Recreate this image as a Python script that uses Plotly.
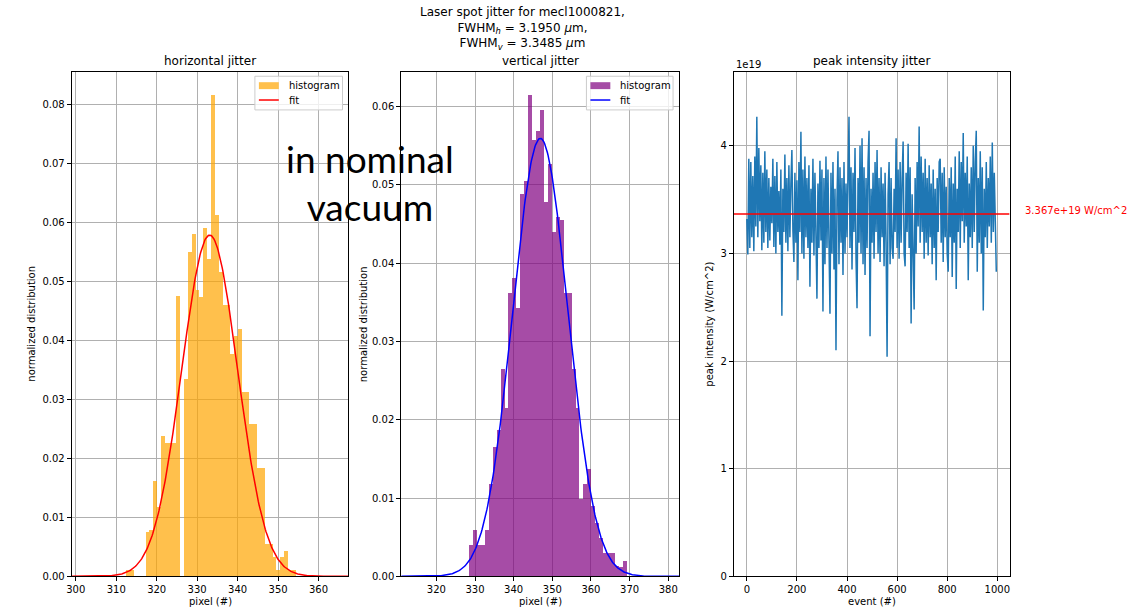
import numpy as np
import plotly.graph_objects as go

W, H = 1138, 614

# ---------------- data ----------------
# horizontal jitter histogram (normalized density), 44 bins
h_bin_start = 312.45
h_bin_width = 0.95
h_density = [0.0011, 0.0011, 0.0, 0.0, 0.0, 0.0075, 0.0078, 0.0161, 0.0117, 0.0237,
             0.0225, 0.0225, 0.0225, 0.0475, 0.0, 0.0334, 0.0549, 0.0580, 0.0484, 0.0473,
             0.0590, 0.0537, 0.0815, 0.0611, 0.0515, 0.0460, 0.0460, 0.0376, 0.0406, 0.0418,
             0.0311, 0.0311, 0.0257, 0.0257, 0.0183, 0.0183, 0.0054, 0.0054, 0.0033, 0.0011,
             0.0033, 0.0042, 0.0011, 0.0011]
h_fit = {"mu": 333.1, "sigma": 6.9}
h_xrange = [299.0, 367.4]

# vertical jitter histogram (normalized density), 40 bins
v_bin_start = 328.5
v_bin_width = 1.021
v_density = [0.0040, 0.0059, 0.0040, 0.0040, 0.0059, 0.0117, 0.0165, 0.0186, 0.0265, 0.0215,
             0.0362, 0.0381, 0.0343, 0.0488, 0.0505, 0.0615, 0.0557, 0.0568, 0.0596, 0.0478,
             0.0527, 0.0440, 0.0459, 0.0455, 0.0362, 0.0362, 0.0265, 0.0215, 0.0098, 0.0117,
             0.0137, 0.0089, 0.0068, 0.0048, 0.0030, 0.0030, 0.0030, 0.0013, 0.0011, 0.0019]
v_fit = {"mu": 346.9, "sigma": 7.13}
v_xrange = [310.9, 382.8]

# peak intensity (units of 1e19 W/cm^2), every 4th event
event_step = 4
peak_intensity = [
    3.32, 2.99, 3.88, 3.05, 3.85, 3.15, 3.72, 3.02, 3.90, 3.25, 4.27, 3.15, 3.98, 3.30, 3.82, 3.03, 3.75, 3.10, 3.95, 3.20, 3.78, 3.05, 3.70, 3.12, 3.62,
    3.28, 3.88, 3.06, 3.72, 3.00, 3.85, 3.20, 3.58, 3.08, 3.78, 2.42, 3.60, 3.20, 3.92, 3.10, 3.70, 3.02, 3.82, 3.15, 3.65, 3.96, 3.22, 2.92, 3.75, 3.10,
    3.68, 2.75, 3.85, 3.20, 4.13, 3.00, 3.78, 2.95, 3.90, 3.15, 3.70, 3.05, 3.82, 2.69, 3.60, 3.10, 3.88, 2.98, 3.75, 3.25, 2.58, 3.65, 3.05, 3.86, 3.12,
    3.78, 2.46, 3.70, 2.90, 3.90, 3.05, 3.78, 3.20, 2.44, 3.75, 3.00, 3.85, 2.85, 3.60, 2.10, 3.50, 3.95, 2.90, 3.80, 3.10, 3.70, 2.80, 3.85, 3.00, 3.65,
    3.15, 3.90, 4.27, 3.05, 3.80, 2.85, 3.75, 3.20, 3.98, 2.95, 2.49, 3.70, 3.10, 4.00, 3.00, 4.07, 2.90, 3.80, 2.80, 3.70, 3.05, 3.85, 4.14, 2.23, 3.60,
    3.10, 3.75, 2.95, 3.85, 3.20, 3.96, 3.00, 3.70, 2.92, 3.80, 3.15, 3.65, 2.88, 3.75, 3.10, 2.04, 3.55, 3.85, 2.90, 3.70, 3.05, 2.95, 3.60, 3.20, 4.07,
    3.05, 3.78, 2.95, 3.85, 3.10, 3.70, 4.04, 3.00, 2.88, 3.75, 3.20, 4.02, 3.05, 3.80, 2.35, 3.55, 3.15, 2.48, 3.70, 3.00, 3.85, 3.25, 4.18, 3.10, 3.90,
    3.20, 3.75, 2.95, 3.88, 3.10, 3.70, 2.98, 3.82, 3.15, 3.65, 2.90, 3.78, 3.05, 3.60, 2.75, 3.70, 3.20, 3.85, 3.88, 3.10, 3.75, 2.92, 3.80, 3.15, 3.62,
    3.00, 2.83, 3.70, 3.15, 3.80, 2.78, 3.65, 3.10, 3.90, 2.67, 3.60, 3.20, 3.95, 3.05, 3.85, 3.30, 4.12, 3.10, 3.75, 3.25, 3.90, 2.75, 3.65, 3.15, 3.80,
    3.05, 4.00, 3.20, 3.85, 4.14, 2.83, 3.70, 3.10, 3.95, 3.00, 3.80, 2.47, 3.60, 3.15, 3.85, 3.05, 3.70, 3.25, 3.90, 3.10, 4.03, 3.20, 3.75, 3.30, 2.83,
]
mean_intensity = 3.367
p_xrange = [-52, 1049]
p_yrange = [0, 4.683]

h_xticks = [300, 310, 320, 330, 340, 350, 360]
v_xticks = [320, 330, 340, 350, 360, 370, 380]
h_yticks = [0.00, 0.01, 0.02, 0.03, 0.04, 0.05, 0.06, 0.07, 0.08]
v_yticks = [0.00, 0.01, 0.02, 0.03, 0.04, 0.05, 0.06]
p_xticks = [0, 200, 400, 600, 800, 1000]
p_yticks = [0, 1, 2, 3, 4]

# ---------------- helpers ----------------
def px(x):
    return x / W

def py(y):
    return 1 - y / H

FONT = "DejaVu Sans"

def gauss(x, mu, sigma):
    return np.exp(-0.5 * ((x - mu) / sigma) ** 2) / (sigma * np.sqrt(2 * np.pi))

# ---------------- figure ----------------
fig = go.Figure()

h_centers = [h_bin_start + (i + 0.5) * h_bin_width for i in range(len(h_density))]
v_centers = [v_bin_start + (i + 0.5) * v_bin_width for i in range(len(v_density))]

fig.add_trace(go.Bar(x=h_centers, y=h_density, width=h_bin_width, name="histogram",
                     marker=dict(color="#FFA500", line=dict(width=0)), opacity=0.7,
                     xaxis="x", yaxis="y", showlegend=False))
hx = np.linspace(h_xrange[0], h_xrange[1], 400)
fig.add_trace(go.Scatter(x=hx, y=gauss(hx, **h_fit), mode="lines", name="fit",
                         line=dict(color="#FF0000", width=1.5), xaxis="x", yaxis="y", showlegend=False))

fig.add_trace(go.Bar(x=v_centers, y=v_density, width=v_bin_width, name="histogram",
                     marker=dict(color="#800080", line=dict(width=0)), opacity=0.7,
                     xaxis="x2", yaxis="y2", showlegend=False))
vx = np.linspace(v_xrange[0], v_xrange[1], 400)
fig.add_trace(go.Scatter(x=vx, y=gauss(vx, **v_fit), mode="lines", name="fit",
                         line=dict(color="#0000FF", width=1.5), xaxis="x2", yaxis="y2", showlegend=False))

events = [i * event_step for i in range(len(peak_intensity))]
fig.add_trace(go.Scatter(x=events, y=peak_intensity, mode="lines", showlegend=False,
                         line=dict(color="#1f77b4", width=1.5), xaxis="x3", yaxis="y3"))
fig.add_trace(go.Scatter(x=p_xrange, y=[mean_intensity, mean_intensity], mode="lines", showlegend=False,
                         line=dict(color="#FF0000", width=1.5), xaxis="x3", yaxis="y3"))

def axis(domain, rng, ticks, fmt, anchor):
    return dict(domain=domain, range=rng, anchor=anchor,
                tickmode="array", tickvals=ticks, ticktext=[fmt.format(t) for t in ticks],
                showline=True, linecolor="black", linewidth=1, mirror=True,
                ticks="outside", ticklen=4, tickwidth=1, tickcolor="black",
                showgrid=True, gridcolor="#b0b0b0", gridwidth=0.8, zeroline=False,
                tickfont=dict(family=FONT, size=10, color="black"))

ydom = [py(582), py(73)]
fig.update_layout(
    width=W, height=H, margin=dict(l=0, r=0, t=0, b=0),
    paper_bgcolor="white", plot_bgcolor="white",
    font=dict(family=FONT, size=10, color="black"),
    barmode="overlay", bargap=0, showlegend=False,
    xaxis=axis([px(67), px(345)], h_xrange, h_xticks, "{:d}", "y"),
    yaxis=axis(ydom, [0, 0.0854], h_yticks, "{:.2f}", "x"),
    xaxis2=axis([px(398), px(677)], v_xrange, v_xticks, "{:d}", "y2"),
    yaxis2=axis(ydom, [0, 0.0644], v_yticks, "{:.2f}", "x2"),
    xaxis3=axis([px(732), px(1009)], p_xrange, p_xticks, "{:d}", "y3"),
    yaxis3=axis(ydom, p_yrange, p_yticks, "{:d}", "x3"),
)

ann = []
def text(t, x, y, size=10, color="black", xanchor="center", yanchor="middle", angle=0, family=FONT):
    ann.append(dict(text=t, x=px(x), y=py(y), xref="paper", yref="paper", showarrow=False,
                    xanchor=xanchor, yanchor=yanchor, textangle=angle,
                    font=dict(family=family, size=size, color=color)))

text("Laser spot jitter for mecl1000821,<br>FWHM<sub><i>h</i></sub> = 3.1950 <i>μ</i>m,<br>FWHM<sub><i>v</i></sub> = 3.3485 <i>μ</i>m",
     520, 3, size=12, yanchor="top")
text("horizontal jitter", 206, 62, size=12)
text("vertical jitter", 537.5, 62, size=12)
text("peak intensity jitter", 870.5, 62, size=12)
text("normalized distribution", 27, 327, angle=-90)
text("normalized distribution", 360, 327, angle=-90)
text("peak intensity (W/cm^2)", 708, 327, angle=-90)
text("pixel (#)", 206, 607)
text("pixel (#)", 537.5, 607)
text("event (#)", 870.5, 607)
text("1e19", 732, 65, xanchor="left")
text("3.367e+19 W/cm^2", 1022, 213, color="#FF0000", xanchor="left")

# legends (matplotlib style boxes)
shapes = []
def legend_box(x0, x1, patch_color, line_color):
    shapes.append(dict(type="rect", xref="paper", yref="paper", x0=px(x0), x1=px(x1), y0=py(111), y1=py(77),
                       line=dict(color="#cccccc", width=1), fillcolor="rgba(255,255,255,0.8)", layer="above"))
    shapes.append(dict(type="rect", xref="paper", yref="paper", x0=px(x0 + 4), x1=px(x0 + 24), y0=py(90), y1=py(83),
                       line=dict(width=0), fillcolor=patch_color, opacity=0.7, layer="above"))
    shapes.append(dict(type="line", xref="paper", yref="paper", x0=px(x0 + 4), x1=px(x0 + 24), y0=py(101), y1=py(101),
                       line=dict(color=line_color, width=1.5), layer="above"))
    text("histogram", x0 + 32, 86, xanchor="left")
    text("fit", x0 + 32, 101, xanchor="left")

legend_box(251, 339, "#FFA500", "#FF0000")
legend_box(584, 671, "#800080", "#0000FF")

text("in nominal<br>vacuum", 367, 184, size=37, family="Lato")
fig.update_layout(annotations=ann, shapes=shapes)

post = ("document.documentElement.style.margin='0';document.body.style.margin='0';"
        "document.documentElement.style.overflow='hidden';document.body.style.overflow='hidden';")
fig.write_html("out.html", config={"displayModeBar": False}, post_script=post)
